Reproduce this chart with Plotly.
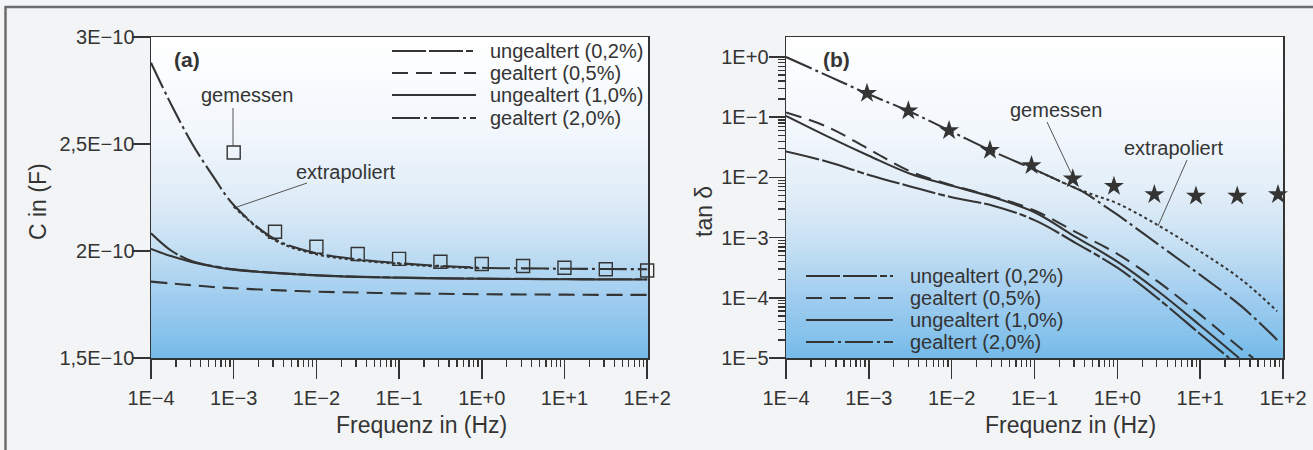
import plotly.graph_objects as go

W, H = 1313, 450
FONT = "Liberation Sans, Arial, Helvetica, sans-serif"
INK = "#343434"

# ---------------- panel (a): capacitance, units of 1E-10 F ----------------
freq_a = [1e-4, 1.78e-4, 3.16e-4, 5.62e-4, 1e-3, 3.16e-3, 1e-2, 3.16e-2, 1e-1,
          3.16e-1, 1.0, 3.16, 10.0, 31.6, 100.0]
c_ungealtert_02 = [2.083, 2.000, 1.952, 1.929, 1.914, 1.898, 1.887, 1.880, 1.876,
                   1.873, 1.871, 1.870, 1.869, 1.868, 1.868]
c_gealtert_05 = [1.857, 1.848, 1.840, 1.832, 1.826, 1.817, 1.810, 1.806, 1.802,
                 1.800, 1.798, 1.797, 1.796, 1.795, 1.795]
c_ungealtert_10 = [2.010, 1.975, 1.948, 1.928, 1.913, 1.897, 1.886, 1.879, 1.875,
                   1.872, 1.870, 1.869, 1.868, 1.867, 1.867]
c_gealtert_20 = [2.880, 2.680, 2.500, 2.350, 2.215, 2.055, 1.990, 1.961, 1.943,
                 1.930, 1.922, 1.919, 1.917, 1.916, 1.915]
freq_a_extra = [1e-3, 3.16e-3, 1e-2, 3.16e-2, 1e-1, 3.16e-1, 1.0]
c_extrapoliert = [2.208, 2.050, 1.985, 1.957, 1.940, 1.927, 1.919]
freq_a_meas = [1e-3, 3.16e-3, 1e-2, 3.16e-2, 1e-1, 3.16e-1, 1.0, 3.16, 10.0, 31.6, 100.0]
c_gemessen = [2.46, 2.09, 2.02, 1.986, 1.963, 1.950, 1.939, 1.930, 1.922, 1.915, 1.909]
C_UNIT = 1e-10

# ---------------- panel (b): tan delta ----------------
freq_b_02 = [1e-4, 3.16e-4, 1e-3, 3.16e-3, 1e-2, 3.16e-2, 1e-1, 3.16e-1, 1.0, 3.16, 10.0, 22.4]
tan_ungealtert_02 = [0.0269, 0.0182, 0.0110, 0.00708, 0.00468, 0.00339, 0.00195,
                     8.1e-4, 3.16e-4, 9.5e-5, 2.5e-5, 1.0e-5]
freq_b_05 = [1e-4, 3.16e-4, 1e-3, 3.16e-3, 1e-2, 3.16e-2, 1e-1, 3.16e-1, 1.0, 3.16, 10.0, 31.6, 43.7]
tan_gealtert_05 = [0.120, 0.069, 0.0295, 0.0126, 0.00741, 0.00479, 0.00282, 0.00123,
                   5.37e-4, 1.82e-4, 5.25e-5, 1.41e-5, 1.0e-5]
freq_b_10 = [1e-4, 3.16e-4, 1e-3, 3.16e-3, 1e-2, 3.16e-2, 1e-1, 3.16e-1, 1.0, 3.16, 10.0, 29.5]
tan_ungealtert_10 = [0.105, 0.048, 0.0229, 0.0115, 0.00724, 0.00468, 0.00263, 0.00102,
                     3.98e-4, 1.26e-4, 3.47e-5, 1.0e-5]
freq_b_20 = [1e-4, 3.16e-4, 1e-3, 3.16e-3, 1e-2, 3.16e-2, 1e-1, 0.25, 0.40, 0.63, 1.0,
             3.16, 10.0, 31.6, 85.0]
tan_gealtert_20 = [1.0, 0.49, 0.24, 0.123, 0.0575, 0.0269, 0.0135, 0.0076, 0.0056,
                   0.0037, 0.0024, 7.6e-4, 2.4e-4, 7.2e-5, 2.0e-5]
freq_b_extra = [0.1, 0.25, 0.5, 1.0, 3.16, 10.0, 31.6, 85.0]
tan_extrapoliert = [0.0135, 0.0076, 0.0052, 0.0037, 0.00158, 5.9e-4, 2.0e-4, 6.0e-5]
freq_b_meas = [9.5e-4, 3.0e-3, 9.3e-3, 2.9e-2, 9.2e-2, 0.29, 0.91, 2.8, 8.9, 28.0, 87.0]
tan_gemessen = [0.25, 0.128, 0.060, 0.0282, 0.0158, 0.0095, 0.0071, 0.0052, 0.0049,
                0.0049, 0.0052]

legend_labels = ["ungealtert (0,2%)", "gealtert (0,5%)", "ungealtert (1,0%)", "gealtert (2,0%)"]
x_tick_vals = [1e-4, 1e-3, 1e-2, 1e-1, 1e0, 1e1, 1e2]
x_tick_text = ["1E\u22124", "1E\u22123", "1E\u22122", "1E\u22121", "1E+0", "1E+1", "1E+2"]
c_tick_vals = [1.5, 2.0, 2.5, 3.0]
c_tick_text = ["1,5E\u221210", "2E\u221210", "2,5E\u221210", "3E\u221210"]
tan_tick_vals = [1e-5, 1e-4, 1e-3, 1e-2, 1e-1, 1e0]
tan_tick_text = ["1E\u22125", "1E\u22124", "1E\u22123", "1E\u22122", "1E\u22121", "1E+0"]

# line styles (order matches legend_labels)
DASHES = ["34px,3px,34px,3px,7px,3px", "16px,8px", "solid", "28px,4px,3px,4px"]
LW = 2.1


def px(xp):
    return xp / W


def py(yp):
    return 1 - yp / H


fig = go.Figure()

# ---- panel (a) traces
series_a = [(freq_a, c_ungealtert_02), (freq_a, c_gealtert_05),
            (freq_a, c_ungealtert_10), (freq_a, c_gealtert_20)]
for (fx, fy), dash, name in zip(series_a, DASHES, legend_labels):
    fig.add_trace(go.Scatter(x=fx, y=[v * C_UNIT for v in fy], mode="lines",
                             line=dict(color=INK, width=LW, dash=dash, shape="spline"),
                             name=name, showlegend=False, xaxis="x", yaxis="y"))
fig.add_trace(go.Scatter(x=freq_a_extra, y=[v * C_UNIT for v in c_extrapoliert], mode="lines",
                         line=dict(color=INK, width=2.2, dash="dot", shape="spline"),
                         name="extrapoliert", showlegend=False, xaxis="x", yaxis="y"))
fig.add_trace(go.Scatter(x=freq_a_meas, y=[v * C_UNIT for v in c_gemessen], mode="markers",
                         marker=dict(symbol="square-open", size=13, color=INK,
                                     line=dict(width=1.4, color=INK)),
                         name="gemessen", showlegend=False, xaxis="x", yaxis="y",
                         cliponaxis=False))

# ---- panel (b) traces
series_b = [(freq_b_02, tan_ungealtert_02), (freq_b_05, tan_gealtert_05),
            (freq_b_10, tan_ungealtert_10), (freq_b_20, tan_gealtert_20)]
for (fx, fy), dash, name in zip(series_b, DASHES, legend_labels):
    fig.add_trace(go.Scatter(x=fx, y=fy, mode="lines",
                             line=dict(color=INK, width=LW, dash=dash, shape="spline"),
                             name=name, showlegend=False, xaxis="x2", yaxis="y2"))
fig.add_trace(go.Scatter(x=freq_b_extra, y=tan_extrapoliert, mode="lines",
                         line=dict(color=INK, width=2.0, dash="dot", shape="spline"),
                         name="extrapoliert", showlegend=False, xaxis="x2", yaxis="y2"))
fig.add_trace(go.Scatter(x=freq_b_meas, y=tan_gemessen, mode="markers",
                         marker=dict(symbol="star", size=15, color=INK, line=dict(width=0)),
                         name="gemessen", showlegend=False, xaxis="x2", yaxis="y2",
                         cliponaxis=False))

# ---- gradient plot backgrounds
stops = [(0.0, (255, 255, 255)), (0.3, (242, 247, 252)), (0.5, (223, 236, 247)),
         (0.65, (198, 224, 243)), (0.8, (162, 206, 239)), (0.92, (136, 195, 236)),
         (1.0, (116, 186, 232))]


def grad_color(t):
    for (t0, c0), (t1, c1) in zip(stops[:-1], stops[1:]):
        if t <= t1:
            f = (t - t0) / (t1 - t0) if t1 > t0 else 0
            return "rgb(%d,%d,%d)" % tuple(round(a + (b - a) * f) for a, b in zip(c0, c1))
    return "rgb(%d,%d,%d)" % stops[-1][1]


shapes = []
NB = 70
for xr, yr in (("x domain", "y domain"), ("x2 domain", "y2 domain")):
    for i in range(NB):
        y1 = 1 - i / NB
        y0 = 1 - (i + 1) / NB - 0.002
        shapes.append(dict(type="rect", xref=xr, yref=yr, x0=0, x1=1, y0=max(y0, 0), y1=y1,
                           fillcolor=grad_color((i + 0.5) / NB), line=dict(width=0),
                           layer="below"))

# ---- outer frame (top and left edge)
shapes.append(dict(type="line", xref="paper", yref="paper", x0=px(5), x1=px(1313),
                   y0=py(7), y1=py(7), line=dict(color="#6d6d6d", width=2.5)))
shapes.append(dict(type="line", xref="paper", yref="paper", x0=px(5.5), x1=px(5.5),
                   y0=py(6), y1=py(450), line=dict(color="#6d6d6d", width=2.5)))

# ---- custom legends (line samples)
legend_a = dict(x0=392, x1=476, xt=488, rows=[51, 73, 95, 118])
legend_b = dict(x0=806, x1=893, xt=908, rows=[276, 298, 320, 342])
annotations = []
for lg in (legend_a, legend_b):
    for yrow, dash, label in zip(lg["rows"], DASHES, legend_labels):
        shapes.append(dict(type="line", xref="paper", yref="paper",
                           x0=px(lg["x0"]), x1=px(lg["x1"]), y0=py(yrow), y1=py(yrow),
                           line=dict(color=INK, width=LW, dash=dash)))
        annotations.append(dict(x=px(lg["xt"]), y=py(yrow), xref="paper", yref="paper",
                                text=label, showarrow=False, xanchor="left", yanchor="middle",
                                font=dict(family=FONT, size=20, color=INK)))

# ---- leader lines
for (x0, y0, x1, y1) in [(233, 108, 233, 146), (307, 183, 237, 207),
                         (1047, 122, 1071, 173), (1187, 160, 1158, 226)]:
    shapes.append(dict(type="line", xref="paper", yref="paper", x0=px(x0), x1=px(x1),
                       y0=py(y0), y1=py(y1), line=dict(color="#555", width=1)))

# ---- text annotations
texts = [("(a)", 187, 60, True), ("gemessen", 247, 95, False), ("extrapoliert", 345, 172, False),
         ("(b)", 837, 60, True), ("gemessen", 1056, 110, False), ("extrapoliert", 1173, 148, False)]
for t, x, y, bold in texts:
    annotations.append(dict(x=px(x), y=py(y), xref="paper", yref="paper",
                            text="<b>%s</b>" % t if bold else t, showarrow=False,
                            xanchor="center", yanchor="middle",
                            font=dict(family=FONT, size=21 if bold else 20, color=INK)))

# axis titles
title_font = dict(family=FONT, size=23, color=INK)
annotations += [
    dict(x=px(421), y=py(425), xref="paper", yref="paper", text="Frequenz in (Hz)",
         showarrow=False, xanchor="center", yanchor="middle", font=title_font),
    dict(x=px(1070), y=py(425), xref="paper", yref="paper", text="Frequenz in (Hz)",
         showarrow=False, xanchor="center", yanchor="middle", font=title_font),
    dict(x=px(38), y=py(202), xref="paper", yref="paper", text="C in (F)", textangle=-90,
         showarrow=False, xanchor="center", yanchor="middle", font=title_font),
    dict(x=px(704), y=py(212), xref="paper", yref="paper", text="tan \u03b4", textangle=-90,
         showarrow=False, xanchor="center", yanchor="middle", font=title_font),
]

minor_x = [m * 10 ** e for e in range(-4, 2) for m in range(2, 10)]
minor_y = [m * 10 ** e for e in range(-5, 0) for m in range(2, 10)]

common_axis = dict(showline=True, mirror=True, linecolor=INK, linewidth=1.5,
                   showgrid=False, zeroline=False, ticks="outside", tickcolor=INK,
                   tickwidth=1.5, tickfont=dict(family=FONT, size=20, color=INK),
                   automargin=False, fixedrange=True)

fig.update_layout(
    width=W, height=H,
    margin=dict(l=0, r=0, t=0, b=0),
    paper_bgcolor="#f3f4f6",
    plot_bgcolor="rgba(0,0,0,0)",
    showlegend=False,
    hovermode=False,
    shapes=shapes,
    annotations=annotations,
    xaxis=dict(common_axis, type="log", range=[-4, 2.01], domain=[px(151), px(648)],
               anchor="y", tickmode="array", tickvals=x_tick_vals, ticktext=x_tick_text,
               ticklen=19, ticklabelstandoff=2,
               minor=dict(tickmode="array", tickvals=minor_x, ticks="outside", ticklen=7,
                          tickcolor=INK, tickwidth=1.3, showgrid=False)),
    yaxis=dict(common_axis, type="linear", range=[1.5e-10, 3.0e-10],
               domain=[py(358), py(37)], anchor="x", tickmode="array",
               tickvals=[v * C_UNIT for v in c_tick_vals], ticktext=c_tick_text,
               ticklen=18, ticklabelstandoff=-7),
    xaxis2=dict(common_axis, type="log", range=[-4, 2], domain=[px(786), px(1283)],
                anchor="y2", tickmode="array", tickvals=x_tick_vals, ticktext=x_tick_text,
                ticklen=19, ticklabelstandoff=2,
                minor=dict(tickmode="array", tickvals=minor_x, ticks="outside", ticklen=7,
                           tickcolor=INK, tickwidth=1.3, showgrid=False)),
    yaxis2=dict(common_axis, type="log", range=[-5, 0.332], domain=[py(358), py(37)],
                anchor="x2", tickmode="array", tickvals=tan_tick_vals, ticktext=tan_tick_text,
                ticklen=16, ticklabelstandoff=-4,
                minor=dict(tickmode="array", tickvals=minor_y, ticks="outside", ticklen=7,
                           tickcolor=INK, tickwidth=1.3, showgrid=False)),
)

fig.write_html("out.html", config={"displayModeBar": False, "staticPlot": True},
               post_script="document.body.style.margin='0px';document.body.style.padding='0px';")
